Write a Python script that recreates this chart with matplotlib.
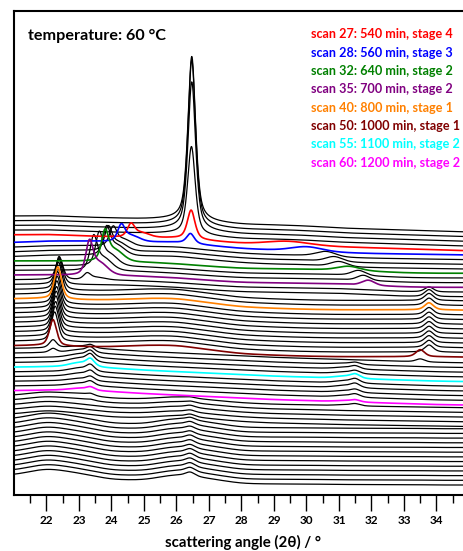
import numpy as np
import matplotlib
matplotlib.use("Agg")
import matplotlib.pyplot as plt

plt.rcParams['font.family'] = ['Lato', 'DejaVu Sans']

# scans shown (top = first scan)
scans = list(range(23, 79))
offset_step = 4.69

# background read at these angles (intensity, arbitrary units)
bg_x = [21, 22, 23, 24, 25, 26, 27, 28, 29, 30, 31, 32, 33, 34, 35]
bg_stage4 = [21, 21.5, 20, 19, 18, 18, 15, 12.5, 12, 11, 9, 8, 7, 6, 5]
bg_stage3 = [18, 19.5, 19.5, 19, 18.5, 18.5, 15, 12, 10.5, 10, 8, 7, 6.5, 6, 5.5]
bg_stage2 = [18.3, 18.5, 18, 18, 17, 15.5, 13, 11, 10.5, 10, 9.5, 8, 6.5, 6, 6]
bg_stage1 = [18, 18.5, 17, 17, 18.5, 18.5, 14, 10, 8.5, 7.5, 7, 7, 7, 7, 6.5]
bg_late2 = [20, 20.5, 21, 19, 17, 15.5, 14, 12.5, 11, 10, 9, 8, 7, 6, 5.5]
bg_mid = [20, 24, 21, 17, 16.5, 19, 15.5, 12.5, 11, 10.5, 9.5, 9, 8.5, 8, 7.5]
bg_end = [20, 27, 22, 15.5, 15, 21, 16.5, 11.5, 11, 11, 10.5, 10.5, 10.5, 10, 10]
bg_ranges = [(23, 27, bg_stage4), (28, 31, bg_stage3), (32, 37, bg_stage2),
             (38, 50, bg_stage1), (51, 60, bg_late2), (61, 65, bg_mid),
             (66, 78, bg_end)]

# stage 4 reflection near 26.5
p1_scans = [23, 24, 25, 26, 27, 28]
p1_pos = [26.47, 26.47, 26.47, 26.46, 26.45, 26.43]
p1_height = [164, 165, 148, 88, 29, 10]

# stage 3 reflection 24.6 -> 23.85
p2_scans = [27, 28, 29, 30, 31]
p2_pos = [24.6, 24.3, 24.05, 23.9, 23.85]
p2_height = [12, 15, 17, 21, 25]

# stage 2 reflection 23.8 -> 23.25
p3_scans = [32, 33, 34, 35, 36]
p3_pos = [23.8, 23.62, 23.45, 23.32, 23.25]
p3_height = [27, 29, 30, 30, 6]

# stage 1 reflection near 22.3
p4_scans = list(range(36, 53))
p4_pos = [22.40, 22.39, 22.38, 22.37, 22.35, 22.34, 22.33, 22.32, 22.31,
          22.30, 22.29, 22.28, 22.27, 22.25, 22.20, 22.20, 22.20]
p4_height = [22, 28, 31, 32, 32, 32, 32, 32, 31, 31, 31, 30, 30, 29, 26, 8, 4]

# stage 1 reflection near 33.8
p5_scans = list(range(36, 52))
p5_pos = [33.77] * 14 + [33.5, 33.5]
p5_height = [5, 7, 7, 7, 7, 7, 7, 7, 7, 7, 7, 7, 7, 7, 7, 3]

# weak reflection 29.4 -> 31.9
p6_scans = [27, 28, 29, 30, 31, 32, 33, 34, 35]
p6_pos = [29.4, 30.0, 30.6, 30.85, 31.0, 31.3, 31.6, 31.75, 31.9]
p6_height = [3, 4, 5, 5, 5, 4, 5, 5, 5]
p6_fwhm = [1.4, 1.1, 0.7, 0.6, 0.6, 0.8, 0.5, 0.45, 0.45]

# late stage 2 reflections near 23.35 and 31.5
p7_scans = list(range(51, 63))
p7_height = [3, 5, 6, 7, 7, 6, 5, 4, 4, 3, 2, 1]
p8_scans = list(range(52, 62))
p8_height = [2, 3, 3, 4, 4, 4, 3, 3, 2, 2]

# weak residual near 26.4 in last scans
p9_scans = list(range(61, 79))
p9_height = [1, 1.5, 2, 2, 2.5, 2.5, 3, 3, 3, 3.5, 3.5, 3.5, 4, 4, 4, 4, 4, 4]

highlight = {27: ('#FF0000', 'scan 27: 540 min, stage 4'),
             28: ('#0000FF', 'scan 28: 560 min, stage 3'),
             32: ('#008000', 'scan 32: 640 min, stage 2'),
             35: ('#800080', 'scan 35: 700 min, stage 2'),
             40: ('#FF8000', 'scan 40: 800 min, stage 1'),
             50: ('#800000', 'scan 50: 1000 min, stage 1'),
             55: ('#00FFFF', 'scan 55: 1100 min, stage 2'),
             60: ('#FF00FF', 'scan 60: 1200 min, stage 2')}


def pv(x, c, h, w, eta=0.5):
    t = (x - c) / (w / 2)
    return h * (eta / (1 + t ** 2) + (1 - eta) * np.exp(-np.log(2) * t ** 2))


def smooth(y, n):
    k = np.exp(-0.5 * (np.arange(-3 * n, 3 * n + 1) / n) ** 2)
    k /= k.sum()
    yp = np.concatenate([np.full(3 * n, y[0]), y, np.full(3 * n, y[-1])])
    return np.convolve(yp, k, mode='same')[3 * n:-3 * n]


x = np.linspace(21, 35, 1401)


def pattern(s):
    for a, b, prof in bg_ranges:
        if a <= s <= b:
            y = smooth(np.interp(x, bg_x, prof), 30)
    if s in p1_scans:
        i = p1_scans.index(s)
        y = y + pv(x, p1_pos[i], p1_height[i], 0.28, 0.6)
    for sc, pos, hh in ((p2_scans, p2_pos, p2_height), (p3_scans, p3_pos, p3_height)):
        if s in sc:
            i = sc.index(s)
            y = y + pv(x, pos[i], hh[i], 0.26) + pv(x, pos[i] + 0.3, 0.4 * hh[i], 0.6, 0.2)
    if s in p4_scans:
        i = p4_scans.index(s)
        y = y + pv(x, p4_pos[i], p4_height[i], 0.26)
    if s in p5_scans:
        i = p5_scans.index(s)
        y = y + pv(x, p5_pos[i], p5_height[i], 0.32)
    if s in p6_scans:
        i = p6_scans.index(s)
        y = y + pv(x, p6_pos[i], p6_height[i], p6_fwhm[i], 0.2)
    if s in p7_scans:
        i = p7_scans.index(s)
        y = y + pv(x, 23.35, p7_height[i], 0.3) + pv(x, 23.0, 0.5 * p7_height[i], 0.7, 0.2)
    if s in p8_scans:
        i = p8_scans.index(s)
        y = y + pv(x, 31.5, p8_height[i], 0.35) + pv(x, 31.15, 0.5 * p8_height[i], 0.7, 0.2)
    if s in p9_scans:
        i = p9_scans.index(s)
        y = y + pv(x, 26.42, p9_height[i], 0.35)
    return y


fig = plt.figure(figsize=(4.63, 5.51), dpi=100)
ax = fig.add_axes([14 / 463, 1 - 495 / 551, 455 / 463, 484 / 551])

for s in scans:
    off = (scans[-1] - s) * offset_step
    if s in highlight:
        continue
    ax.plot(x, pattern(s) + off, color='black', lw=0.9, zorder=2)
for s in highlight:
    off = (scans[-1] - s) * offset_step
    ax.plot(x, pattern(s) + off, color=highlight[s][0], lw=1.2, zorder=3)

ax.set_xlim(21, 35)
ax.set_ylim(0, 484)
ax.set_yticks([])
ax.set_xticks(range(22, 35))
ax.set_xticks(np.arange(21.5, 35, 1), minor=True)
ax.tick_params(axis='x', which='major', direction='out', length=11.5, width=1, pad=3, labelsize=8.5)
ax.tick_params(axis='x', which='minor', direction='out', length=5.5, width=1)
for lab in ax.get_xticklabels():
    lab.set_fontweight('bold')
for sp in ('left', 'bottom', 'top'):
    ax.spines[sp].set_linewidth(1.5)
ax.spines['right'].set_visible(False)

fig.text(28 / 463, 1 - 36 / 551, 'temperature: 60 °C', fontsize=11.6, fontweight='bold',
         ha='left', va='center')
for k, s in enumerate(highlight):
    fig.text(311 / 463, 1 - (34.3 + 18.33 * k) / 551, highlight[s][1],
             color=highlight[s][0], fontsize=9.1, fontweight='bold', ha='left', va='center')
fig.text(243 / 463, 1 - 542 / 551, 'scattering angle (2θ) / °', fontsize=10.8,
         fontweight='bold', ha='center', va='center')

fig.savefig('out.png', dpi=100)
